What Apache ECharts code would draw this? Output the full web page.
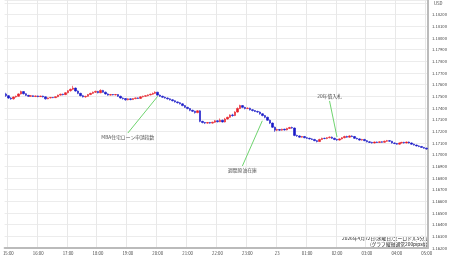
<!DOCTYPE html>
<html><head><meta charset="utf-8">
<script src="https://cdn.jsdelivr.net/npm/echarts@6/dist/echarts.min.js"></script>
<style>html,body{margin:0;padding:0;background:#fff}#c{width:450px;height:258px}</style>
</head><body><div id="c"></div>
<script>
// 5-minute EUR/USD candles, 14:55 -> 05:00 (JST)
const startMinute = 14 * 60 + 55;
const candleCount = 170;
const opens = [
1.17520,1.17505,1.17485,1.17478,1.17494,1.17500,1.17520,1.17540,1.17522,1.17508,
1.17500,1.17505,1.17498,1.17503,1.17497,1.17502,1.17495,1.17478,1.17486,1.17490,
1.17488,1.17496,1.17510,1.17518,1.17514,1.17530,1.17548,1.17560,1.17570,1.17545,
1.17525,1.17505,1.17495,1.17500,1.17515,1.17525,1.17535,1.17542,1.17530,1.17550,
1.17535,1.17520,1.17510,1.17515,1.17512,1.17515,1.17500,1.17485,1.17480,1.17470,
1.17478,1.17472,1.17480,1.17486,1.17482,1.17495,1.17500,1.17505,1.17512,1.17518,
1.17525,1.17535,1.17510,1.17500,1.17492,1.17485,1.17478,1.17470,1.17462,1.17452,
1.17445,1.17435,1.17420,1.17405,1.17395,1.17380,1.17372,1.17360,1.17375,1.17285,
1.17275,1.17270,1.17275,1.17270,1.17278,1.17290,1.17282,1.17295,1.17280,1.17305,
1.17320,1.17340,1.17335,1.17365,1.17395,1.17420,1.17405,1.17395,1.17398,1.17385,
1.17378,1.17370,1.17365,1.17350,1.17335,1.17320,1.17295,1.17270,1.17235,1.17210,
1.17215,1.17210,1.17218,1.17212,1.17225,1.17232,1.17228,1.17165,1.17160,1.17150,
1.17155,1.17145,1.17140,1.17135,1.17130,1.17120,1.17112,1.17130,1.17140,1.17138,
1.17145,1.17150,1.17140,1.17130,1.17125,1.17135,1.17145,1.17155,1.17150,1.17160,
1.17155,1.17140,1.17135,1.17125,1.17130,1.17120,1.17110,1.17105,1.17100,1.17108,
1.17104,1.17110,1.17106,1.17115,1.17120,1.17115,1.17100,1.17095,1.17090,1.17100,
1.17105,1.17100,1.17108,1.17100,1.17090,1.17082,1.17075,1.17070,1.17062,1.17055];
const closes = [
1.17505,1.17485,1.17478,1.17494,1.17500,1.17520,1.17540,1.17522,1.17508,1.17500,
1.17505,1.17498,1.17503,1.17497,1.17502,1.17495,1.17478,1.17486,1.17490,1.17488,
1.17496,1.17510,1.17518,1.17514,1.17530,1.17548,1.17560,1.17570,1.17545,1.17525,
1.17505,1.17495,1.17500,1.17515,1.17525,1.17535,1.17542,1.17530,1.17550,1.17535,
1.17520,1.17510,1.17515,1.17512,1.17515,1.17500,1.17485,1.17480,1.17470,1.17478,
1.17472,1.17480,1.17486,1.17482,1.17495,1.17500,1.17505,1.17512,1.17518,1.17525,
1.17535,1.17510,1.17500,1.17492,1.17485,1.17478,1.17470,1.17462,1.17452,1.17445,
1.17435,1.17420,1.17405,1.17395,1.17380,1.17372,1.17360,1.17375,1.17285,1.17275,
1.17270,1.17275,1.17270,1.17278,1.17290,1.17282,1.17295,1.17280,1.17305,1.17320,
1.17340,1.17335,1.17365,1.17395,1.17420,1.17405,1.17395,1.17398,1.17385,1.17378,
1.17370,1.17365,1.17350,1.17335,1.17320,1.17295,1.17270,1.17235,1.17210,1.17215,
1.17210,1.17218,1.17212,1.17225,1.17232,1.17228,1.17165,1.17160,1.17150,1.17155,
1.17145,1.17140,1.17135,1.17130,1.17120,1.17112,1.17130,1.17140,1.17138,1.17145,
1.17150,1.17140,1.17130,1.17125,1.17135,1.17145,1.17155,1.17150,1.17160,1.17155,
1.17140,1.17135,1.17125,1.17130,1.17120,1.17110,1.17105,1.17100,1.17108,1.17104,
1.17110,1.17106,1.17115,1.17120,1.17115,1.17100,1.17095,1.17090,1.17100,1.17105,
1.17100,1.17108,1.17100,1.17090,1.17082,1.17075,1.17070,1.17062,1.17055,1.17048];
const lows = [
1.17495,1.17478,1.17470,1.17472,1.17488,1.17496,1.17515,1.17515,1.17502,1.17495,
1.17496,1.17494,1.17493,1.17492,1.17494,1.17490,1.17472,1.17475,1.17482,1.17484,
1.17485,1.17492,1.17505,1.17508,1.17510,1.17525,1.17540,1.17552,1.17540,1.17518,
1.17500,1.17490,1.17488,1.17496,1.17510,1.17520,1.17528,1.17525,1.17526,1.17530,
1.17515,1.17505,1.17505,1.17508,1.17507,1.17495,1.17480,1.17472,1.17462,1.17465,
1.17466,1.17468,1.17475,1.17478,1.17478,1.17490,1.17496,1.17500,1.17508,1.17512,
1.17520,1.17505,1.17495,1.17486,1.17480,1.17472,1.17464,1.17456,1.17446,1.17438,
1.17430,1.17415,1.17400,1.17388,1.17372,1.17365,1.17352,1.17355,1.17278,1.17268,
1.17262,1.17264,1.17265,1.17265,1.17272,1.17276,1.17278,1.17275,1.17276,1.17300,
1.17315,1.17325,1.17330,1.17360,1.17390,1.17398,1.17388,1.17390,1.17378,1.17370,
1.17365,1.17358,1.17342,1.17328,1.17312,1.17290,1.17262,1.17228,1.17195,1.17200,
1.17202,1.17205,1.17206,1.17208,1.17220,1.17222,1.17158,1.17152,1.17145,1.17146,
1.17140,1.17135,1.17130,1.17125,1.17115,1.17105,1.17108,1.17125,1.17132,1.17132,
1.17140,1.17135,1.17124,1.17118,1.17120,1.17130,1.17140,1.17145,1.17145,1.17150,
1.17135,1.17130,1.17120,1.17120,1.17115,1.17105,1.17100,1.17095,1.17096,1.17100,
1.17100,1.17102,1.17102,1.17110,1.17110,1.17095,1.17090,1.17085,1.17086,1.17096,
1.17095,1.17096,1.17095,1.17085,1.17078,1.17070,1.17064,1.17058,1.17050,1.17042];
const highs = [
1.17530,1.17510,1.17492,1.17498,1.17506,1.17525,1.17548,1.17544,1.17526,1.17512,
1.17510,1.17508,1.17507,1.17506,1.17505,1.17505,1.17498,1.17490,1.17494,1.17494,
1.17500,1.17514,1.17522,1.17522,1.17535,1.17552,1.17566,1.17590,1.17575,1.17550,
1.17530,1.17512,1.17504,1.17520,1.17530,1.17540,1.17548,1.17546,1.17560,1.17555,
1.17540,1.17525,1.17520,1.17518,1.17520,1.17518,1.17505,1.17490,1.17485,1.17482,
1.17482,1.17484,1.17490,1.17490,1.17500,1.17505,1.17510,1.17516,1.17522,1.17532,
1.17542,1.17538,1.17515,1.17505,1.17497,1.17490,1.17482,1.17475,1.17466,1.17456,
1.17450,1.17440,1.17425,1.17410,1.17398,1.17385,1.17376,1.17380,1.17380,1.17290,
1.17280,1.17280,1.17280,1.17282,1.17296,1.17295,1.17310,1.17300,1.17315,1.17325,
1.17345,1.17350,1.17372,1.17405,1.17428,1.17425,1.17410,1.17405,1.17402,1.17390,
1.17382,1.17376,1.17370,1.17355,1.17340,1.17325,1.17300,1.17275,1.17240,1.17222,
1.17220,1.17222,1.17222,1.17230,1.17238,1.17240,1.17232,1.17170,1.17165,1.17160,
1.17160,1.17150,1.17145,1.17140,1.17135,1.17125,1.17136,1.17145,1.17145,1.17150,
1.17156,1.17155,1.17145,1.17135,1.17140,1.17150,1.17162,1.17162,1.17166,1.17165,
1.17160,1.17145,1.17140,1.17135,1.17135,1.17125,1.17115,1.17110,1.17112,1.17112,
1.17114,1.17114,1.17120,1.17126,1.17125,1.17118,1.17105,1.17100,1.17105,1.17110,
1.17110,1.17112,1.17112,1.17104,1.17094,1.17086,1.17080,1.17074,1.17066,1.17060];

// hour ticks (category value -> shown label)
const tickTimes  = ['15:00','16:00','17:00','18:00','19:00','20:00','21:00','22:00','23:00','00:00','01:00','02:00','03:00','04:00','05:00'];
const tickLabels = ['15:00','16:00','17:00','18:00','19:00','20:00','21:00','22:00','23:00','23','01:00','02:00','03:00','04:00','05:00'];

// y axis
const yMin = 1.162, yMax = 1.18325, yStep = 0.001;

// event annotations
const annoTexts    = ['MBA住宅ローン申請指数', '週間原油在庫', '20年債入札'];
const annoCandle   = ['20:00', '23:30', '02:00'];
const annoCandleP  = [1.17500, 1.17290, 1.17151];
const annoLabelAt  = ['19:00', '22:50', '01:45'];
const annoLabelP   = [1.17185, 1.16903, 1.17460];
const annoLabelPos = ['bottom', 'bottom', 'top'];

const footer1 = '2026年4月22日(水曜日)ユーロドル5分足';
const footer2 = '(グラフ縦軸通常200pips幅)';

const pad = n => (n < 10 ? '0' : '') + n;
const categories = [];
for (let i = 0; i < candleCount; i++) {
  const m = (startMinute + 5 * i) % 1440;
  categories.push(pad(Math.floor(m / 60)) + ':' + pad(m % 60));
}
const ohlc = opens.map((o, i) => [o, closes[i], lows[i], highs[i]]);
const isTick = idx => tickTimes.indexOf(categories[idx]) >= 0;

const FONT = '"Noto Sans CJK JP", "Noto Sans", sans-serif';
const chart = echarts.init(document.getElementById('c'), null, {renderer: 'canvas'});
chart.setOption({
  animation: false,
  backgroundColor: '#ffffff',
  grid: {left: 0, right: 20, top: 0, bottom: 10},
  xAxis: {
    type: 'category', data: categories, boundaryGap: true,
    axisLine: {show: true, lineStyle: {color: '#bbbbbb', width: 2}},
    axisTick: {show: false},
    axisLabel: {
      interval: (idx) => isTick(idx), fontSize: 4.3, color: '#444', margin: 3, fontFamily: FONT,
      formatter: v => { const k = tickTimes.indexOf(v); return k >= 0 ? tickLabels[k] : ''; }
    },
    splitLine: {show: true, interval: (idx) => isTick(idx), lineStyle: {color: '#e8e8e8', width: 1}}
  },
  yAxis: {
    type: 'value', position: 'right', min: yMin, max: yMax, interval: yStep, scale: true,
    name: 'USD', nameLocation: 'end', nameGap: -6,
    nameTextStyle: {fontSize: 4.3, color: '#444', fontFamily: FONT, align: 'left', padding: [0, 0, 0, 6]},
    axisLine: {show: true, lineStyle: {color: '#bbbbbb', width: 2}},
    axisTick: {show: false},
    axisLabel: {fontSize: 4.2, color: '#444', margin: 4, fontFamily: FONT,
      formatter: v => (v > 1.1825 ? '' : v.toFixed(5))},
    splitLine: {show: true, lineStyle: {color: '#ececec', width: 1}}
  },
  series: [{
    type: 'candlestick', data: ohlc, barWidth: 2,
    itemStyle: {color: '#e8202a', color0: '#1a1ac8', borderColor: '#e8202a', borderColor0: '#1a1ac8', borderWidth: 0.6},
    markLine: {
      silent: true, symbol: ['none', 'none'], animation: false,
      label: {show: false},
      lineStyle: {color: '#6fd46f', width: 1, type: 'solid'},
      data: annoTexts.map((t, k) => [
        {coord: [annoCandle[k], annoCandleP[k]]},
        {coord: [annoLabelAt[k], annoLabelP[k]]}
      ])
    }
  }, {
    type: 'scatter', symbolSize: 0, silent: true,
    data: annoTexts.map((t, k) => ({value: [annoLabelAt[k], annoLabelP[k]], name: t,
      label: {position: annoLabelPos[k]}})),
    label: {show: true, formatter: p => p.name, fontSize: 4.8, color: '#222', distance: 2, fontFamily: FONT}
  }],
  graphic: [
    {type: 'text', right: 21, top: 236, style: {text: footer1, font: '4.8px ' + FONT, fill: '#222', textAlign: 'right'}},
    {type: 'text', right: 21, top: 241.5, style: {text: footer2, font: '4.8px ' + FONT, fill: '#222', textAlign: 'right'}}
  ]
});
</script></body></html>
